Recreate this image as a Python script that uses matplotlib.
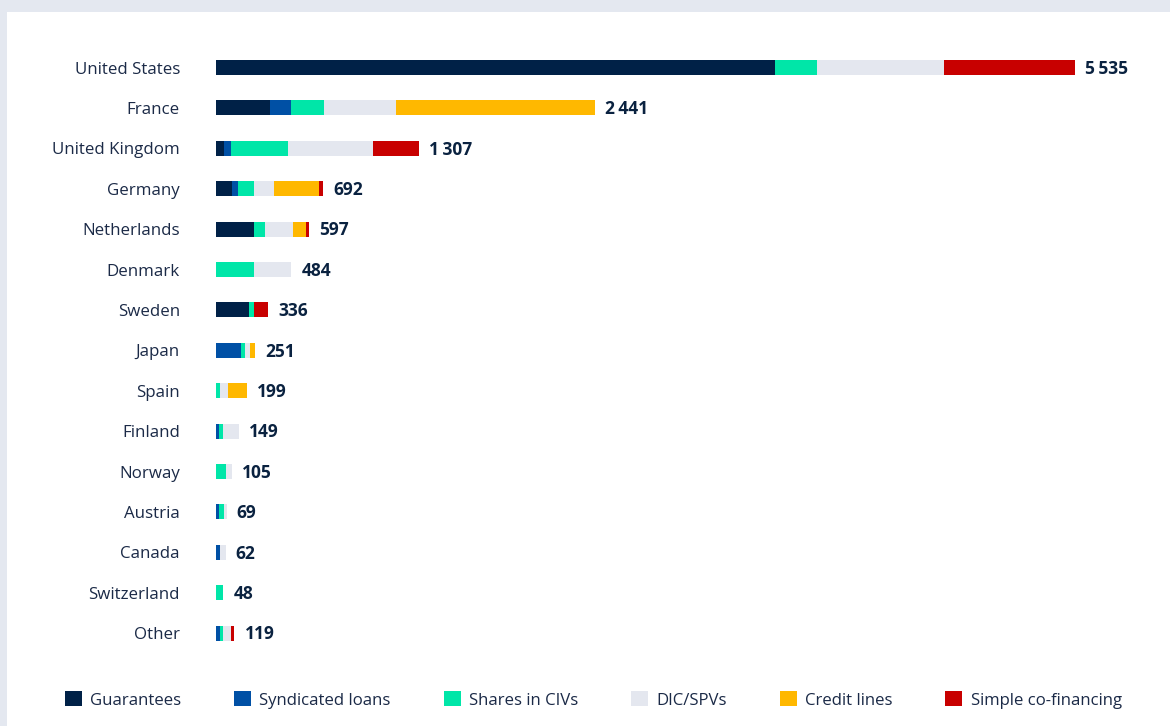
import matplotlib
matplotlib.use("Agg")
import matplotlib.pyplot as plt
from matplotlib.patches import Rectangle
import numpy as np

countries = ["United States", "France", "United Kingdom", "Germany", "Netherlands",
             "Denmark", "Sweden", "Japan", "Spain", "Finland", "Norway", "Austria",
             "Canada", "Switzerland", "Other"]
totals = [5535, 2441, 1307, 692, 597, 484, 336, 251, 199, 149, 105, 69, 62, 48, 119]
total_labels = ["5\u2009535", "2\u2009441", "1\u2009307", "692", "597", "484", "336", "251",
                "199", "149", "105", "69", "62", "48", "119"]

series_names = ["Guarantees", "Syndicated loans", "Shares in CIVs", "DIC/SPVs",
                "Credit lines", "Simple co-financing"]
guarantees = [3602, 348, 52, 100, 248, 0, 214, 0, 0, 0, 0, 0, 0, 0, 0]
syndicated = [0, 135, 45, 44, 0, 0, 0, 160, 0, 17, 0, 20, 24, 0, 23]
shares_civs = [271, 213, 367, 100, 70, 245, 30, 27, 24, 29, 62, 29, 0, 48, 23]
dic_spvs = [818, 464, 547, 131, 177, 239, 0, 32, 53, 103, 43, 20, 38, 0, 50]
credit_lines = [0, 1281, 0, 287, 83, 0, 0, 32, 122, 0, 0, 0, 0, 0, 0]
co_financing = [844, 0, 296, 30, 19, 0, 92, 0, 0, 0, 0, 0, 0, 0, 23]

colors = ["#002147", "#0050A5", "#00E6A8", "#E4E7EF", "#FFB800", "#C80000"]
text_col = "#1B2A47"
val_col = "#0A2240"

plt.rcParams["font.family"] = ["Open Sans", "DejaVu Sans"]

W, H = 1170, 726
fig = plt.figure(figsize=(W / 100, H / 100), dpi=100)
fig.patch.set_facecolor("#E4E8F0")
fig.patches.append(Rectangle((7 / W, 0), 1 - 7 / W, 1 - 12 / H, transform=fig.transFigure,
                             facecolor="white", edgecolor="none", zorder=-10))

left = 216 / W
right = 1075 / W
top_px, bot_px = 47.3, 653.3
ax = fig.add_axes([left, 1 - bot_px / H, right - left, (bot_px - top_px) / H])
ax.set_facecolor("none")
ax.set_zorder(5)

y = np.arange(len(countries))
data = [guarantees, syndicated, shares_civs, dic_spvs, credit_lines, co_financing]
lefts = np.zeros(len(countries))
handles = []
for name, vals, c in zip(series_names, data, colors):
    vals = np.array(vals, dtype=float)
    b = ax.barh(y, vals, left=lefts, height=0.37, color=c, label=name, linewidth=0)
    handles.append(b)
    lefts += vals

for yi, tot, lab in zip(y, totals, total_labels):
    ax.annotate(lab, (tot, yi), xytext=(7.3, -1.0), textcoords="offset points",
                va="center", ha="left", fontsize=12.5, fontweight="bold", color=val_col)

ax.set_xlim(0, 5535)
ax.set_ylim(len(countries) - 0.5, -0.5)
ax.set_yticks(y)
ax.set_yticklabels(countries, fontsize=12.2, color=text_col)
ax.tick_params(axis="y", length=0, pad=26)
ax.set_xticks([])
for s in ax.spines.values():
    s.set_visible(False)

leg = fig.legend(handles=handles, labels=series_names, loc="center left",
                 bbox_to_anchor=(65 / W, 1 - 700 / H), ncol=6, frameon=False,
                 fontsize=12.1, handlelength=1.0, handleheight=1.0, handletextpad=0.5,
                 columnspacing=3.15, borderaxespad=0, borderpad=0)
for t in leg.get_texts():
    t.set_color(text_col)

fig.savefig("out.png", dpi=100, facecolor=fig.get_facecolor())
